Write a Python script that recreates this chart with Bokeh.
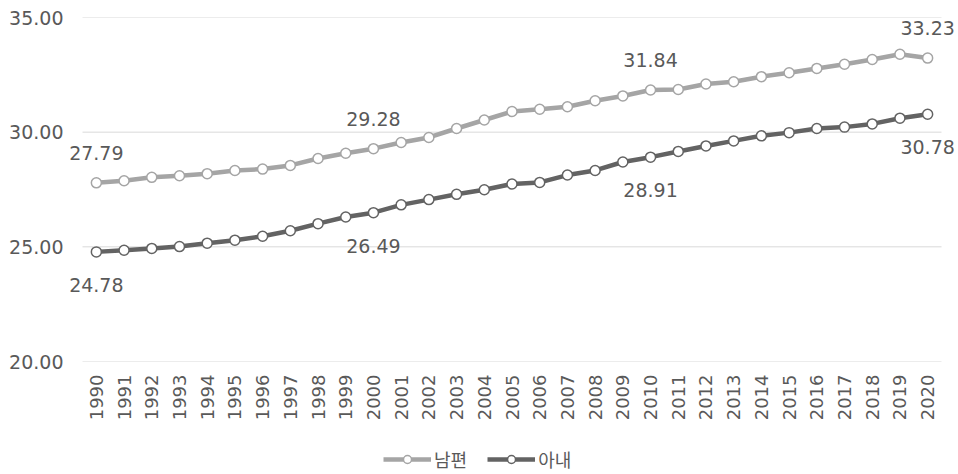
import math
from bokeh.plotting import figure
from bokeh.layouts import column
from bokeh.models import (ColumnDataSource, Range1d, FixedTicker,
                          PrintfTickFormatter, Legend, LegendItem, LabelSet)
from bokeh.core.properties import value
from bokeh.embed import file_html
from bokeh.resources import INLINE

years = [str(y) for y in range(1990, 2021)]
husband = [27.79, 27.88, 28.03, 28.10, 28.19, 28.33, 28.39, 28.55, 28.85, 29.08,
           29.28, 29.55, 29.77, 30.16, 30.53, 30.90, 31.00, 31.11, 31.37, 31.58,
           31.84, 31.86, 32.10, 32.20, 32.42, 32.59, 32.78, 32.96, 33.17, 33.40,
           33.23]
wife = [24.78, 24.85, 24.93, 25.01, 25.16, 25.29, 25.46, 25.70, 26.01, 26.30,
        26.49, 26.83, 27.06, 27.29, 27.49, 27.74, 27.81, 28.13, 28.33, 28.70,
        28.91, 29.16, 29.40, 29.62, 29.84, 29.98, 30.16, 30.22, 30.36, 30.61,
        30.78]
label_years = ["1990", "2000", "2010", "2020"]
series_names = ["남편", "아내"]
y_ticks = [20, 25, 30, 35]

HUS_COLOR = "#A5A5A5"
WIFE_COLOR = "#636363"
TEXT_COLOR = "#595959"
GRID_COLOR = "#D9D9D9"
NUM_FONT = "DejaVu Sans"
KR_FONT = "Noto Sans CJK KR"

# layout geometry (pixels)
FRAME_LEFT = 66          # frame starts just right of the y tick labels
PLOT_LEFT = 82           # where the category band starts (grid lines start)
PLOT_RIGHT = 941
WIDTH = 958
n = len(years)
step = (PLOT_RIGHT - PLOT_LEFT) / n
xpos = list(range(n))
x_start = -0.5 - (PLOT_LEFT - FRAME_LEFT) / step
x_end = (n - 0.5) + (WIDTH - PLOT_RIGHT) / step

src = ColumnDataSource(dict(x=xpos, year=years, husband=husband, wife=wife))

p = figure(width=WIDTH, height=432, x_range=Range1d(x_start, x_end),
           y_range=Range1d(min(y_ticks), max(y_ticks)),
           output_backend="svg", toolbar_location=None,
           min_border_left=FRAME_LEFT, min_border_right=0, min_border_top=17,
           min_border_bottom=71)
p.outline_line_color = None
p.background_fill_color = "white"
p.border_fill_color = "white"

# grid lines spanning only the category band
p.xgrid.grid_line_color = None
p.ygrid.grid_line_color = None
p.segment(x0=[-0.5] * len(y_ticks), x1=[n - 0.5] * len(y_ticks), y0=y_ticks,
          y1=y_ticks, line_color=GRID_COLOR, line_width=1)

# y axis
p.yaxis.ticker = FixedTicker(ticks=y_ticks)
p.yaxis.formatter = PrintfTickFormatter(format="%.2f")
p.yaxis.axis_line_color = None
p.yaxis.major_tick_line_color = None
p.yaxis.minor_tick_line_color = None
p.yaxis.major_tick_out = 0
p.yaxis.major_tick_in = 0
p.yaxis.major_label_standoff = 3
p.yaxis.major_label_text_font = NUM_FONT
p.yaxis.major_label_text_font_size = "19px"
p.yaxis.major_label_text_color = TEXT_COLOR

# x axis
p.xaxis.ticker = FixedTicker(ticks=xpos)
p.xaxis.major_label_overrides = {i: y for i, y in zip(xpos, years)}
p.xaxis.axis_line_color = None
p.xaxis.major_tick_line_color = None
p.xaxis.minor_tick_line_color = None
p.xaxis.major_tick_out = 0
p.xaxis.major_tick_in = 0
p.xaxis.major_label_orientation = math.pi / 2
p.xaxis.major_label_standoff = 13
p.xaxis.major_label_text_font = NUM_FONT
p.xaxis.major_label_text_font_size = "18px"
p.xaxis.major_label_text_color = TEXT_COLOR

# series
p.line("x", "husband", source=src, line_color=HUS_COLOR, line_width=4.5)
p.scatter("x", "husband", source=src, size=10, marker="circle",
          fill_color="white", line_color=HUS_COLOR, line_width=1.5)
p.line("x", "wife", source=src, line_color=WIFE_COLOR, line_width=4.5)
p.scatter("x", "wife", source=src, size=10, marker="circle",
          fill_color="white", line_color=WIFE_COLOR, line_width=1.5)

# data labels
idx = [years.index(y) for y in label_years]
lab_h = ColumnDataSource(dict(x=idx, y=[husband[i] for i in idx],
                              t=["%.2f" % husband[i] for i in idx]))
lab_w = ColumnDataSource(dict(x=idx, y=[wife[i] for i in idx],
                              t=["%.2f" % wife[i] for i in idx]))
p.add_layout(LabelSet(x="x", y="y", text="t", source=lab_h, y_offset=30,
                      text_align="center", text_baseline="middle",
                      text_font=value(NUM_FONT), text_font_size=value("19px"),
                      text_color=TEXT_COLOR))
p.add_layout(LabelSet(x="x", y="y", text="t", source=lab_w, y_offset=-33,
                      text_align="center", text_baseline="middle",
                      text_font=value(NUM_FONT), text_font_size=value("19px"),
                      text_color=TEXT_COLOR))

# legend strip: a second figure whose renderers use the same data but lie out of view
lf = figure(width=WIDTH, height=42, x_range=Range1d(0, 1), y_range=Range1d(0, 1),
            output_backend="svg", toolbar_location=None,
            x_axis_location=None, y_axis_location=None,
            min_border_left=FRAME_LEFT, min_border_right=0, min_border_top=0,
            min_border_bottom=0)
lf.outline_line_color = None
lf.xgrid.grid_line_color = None
lf.ygrid.grid_line_color = None
ll1 = lf.line("x", "husband", source=src, line_color=HUS_COLOR, line_width=4.5)
ls1 = lf.scatter("x", "husband", source=src, size=10, marker="circle",
                 fill_color="white", line_color=HUS_COLOR, line_width=1.5)
ll2 = lf.line("x", "wife", source=src, line_color=WIFE_COLOR, line_width=4.5)
ls2 = lf.scatter("x", "wife", source=src, size=10, marker="circle",
                 fill_color="white", line_color=WIFE_COLOR, line_width=1.5)
legend = Legend(items=[LegendItem(label=series_names[0], renderers=[ll1, ls1]),
                       LegendItem(label=series_names[1], renderers=[ll2, ls2])],
                orientation="horizontal", location=(383 - FRAME_LEFT, 2),
                glyph_width=48, glyph_height=20, label_height=20,
                label_standoff=3, spacing=20,
                padding=0, margin=0, border_line_color=None,
                background_fill_alpha=0,
                label_text_font=KR_FONT, label_text_font_size="18px",
                label_text_color=TEXT_COLOR)
lf.add_layout(legend)

layout = column(p, lf, spacing=0)
open("out.html", "w").write(file_html(layout, INLINE))
